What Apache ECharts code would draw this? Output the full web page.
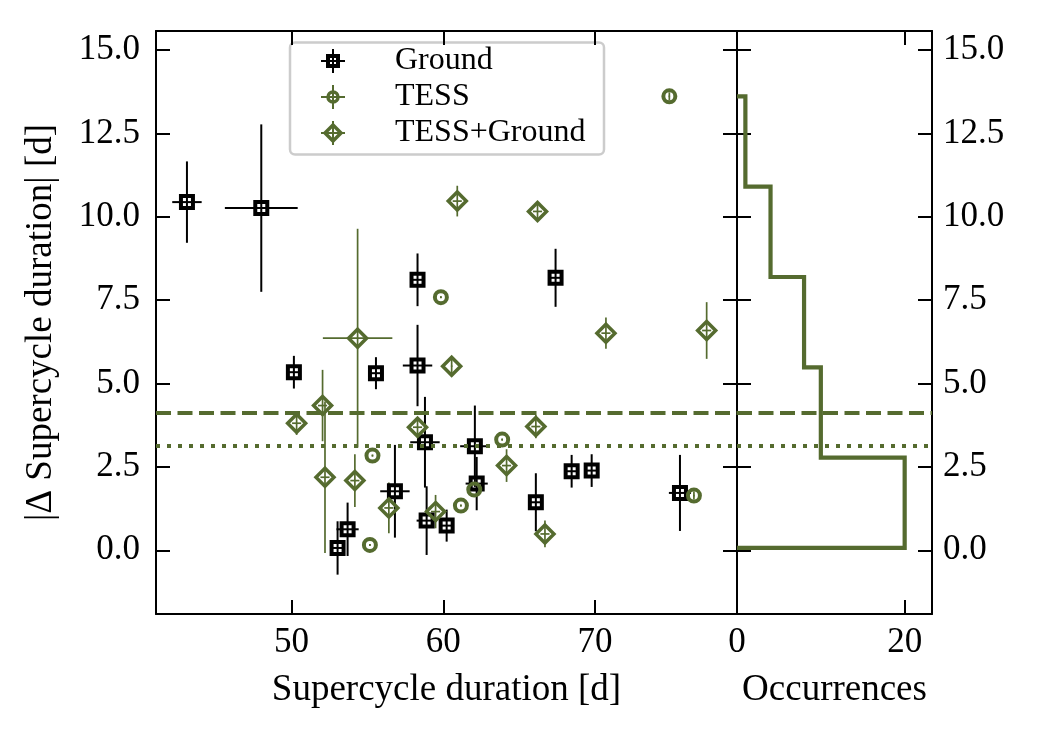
<!DOCTYPE html>
<html>
<head>
<meta charset="utf-8">
<script src="https://cdn.jsdelivr.net/npm/echarts@6/dist/echarts.min.js"></script>
<style>
html,body{margin:0;padding:0;background:#fff;}
#chart{width:1038px;height:738px;}
</style>
</head>
<body>
<div id="chart"></div>
<script>
// ---------------- data ----------------
const groundX    = [43.10, 48.00, 50.15, 55.56, 58.30, 58.30, 58.79, 53.03, 53.69, 56.81, 58.90, 60.22, 62.08, 62.20, 66.10, 68.46, 69.78, 75.60, 67.40];
const groundY    = [10.44, 10.26, 5.34, 5.31, 5.54, 8.11, 3.24, 0.07, 0.63, 1.77, 0.89, 0.74, 3.12, 2.00, 1.44, 2.37, 2.39, 1.72, 8.17];
const groundXErr = [0.97, 2.40, 0.35, 0.35, 0.97, 0.35, 0.97, 0.35, 0.73, 0.97, 0.66, 0.35, 0.97, 0.73, 0.35, 0.35, 0.35, 0.73, 0.35];
const groundYErr = [1.22, 2.51, 0.49, 0.48, 1.22, 0.79, 1.36, 0.80, 0.80, 1.39, 1.03, 0.48, 1.22, 0.80, 0.87, 0.49, 0.49, 1.14, 0.87];

const tessX    = [74.90, 59.84, 55.33, 55.16, 63.88, 62.04, 61.16, 76.52];
const tessY    = [13.61, 7.59, 2.84, 0.16, 3.32, 1.82, 1.34, 1.64];
const tessXErr = [0.05, 0.05, 0.05, 0.05, 0.05, 0.05, 0.05, 0.05];
const tessYErr = [0.12, 0.03, 0.03, 0.03, 0.03, 0.03, 0.03, 0.12];

const tgX    = [60.92, 66.21, 70.72, 77.36, 60.55, 54.35, 52.04, 50.33, 58.30, 52.20, 54.17, 56.41, 59.49, 64.17, 66.10, 66.70];
const tgY    = [10.47, 10.16, 6.51, 6.59, 5.52, 6.36, 4.34, 3.81, 3.69, 2.19, 2.09, 1.27, 1.16, 2.54, 3.71, 0.49];
const tgXErr = [0.30, 0.30, 0.30, 0.30, 0.05, 2.29, 0.30, 0.30, 0.30, 0.30, 0.30, 0.30, 0.30, 0.30, 0.30, 0.30];
const tgYErr = [0.46, 0.20, 0.47, 0.85, 0.30, 3.28, 1.07, 0.35, 0.25, 2.27, 0.79, 0.76, 0.50, 0.49, 0.35, 0.40];

const xTicks    = [50, 60, 70];
const yTicks    = [0, 2.5, 5, 7.5, 10, 12.5, 15];
const histTicks = [0, 20];
const nBins = 5;

const seriesNames = ['Ground', 'TESS', 'TESS+Ground'];

// ---------------- derived ----------------
const GREEN = '#556b2f';
const FONT = "'Liberation Serif', 'DejaVu Serif', serif";

const allY = groundY.concat(tessY, tgY);
const meanY = allY.reduce((a, b) => a + b, 0) / allY.length;
const sortedY = allY.slice().sort((a, b) => a - b);
const n = sortedY.length;
const medianY = n % 2 ? sortedY[(n - 1) / 2] : (sortedY[n / 2 - 1] + sortedY[n / 2]) / 2;

const lo = sortedY[0], hi = sortedY[n - 1];
const bw = (hi - lo) / nBins;
const edges = [];
for (let i = 0; i <= nBins; i++) edges.push(lo + i * bw);
const counts = new Array(nBins).fill(0);
allY.forEach(v => {
  let k = Math.floor((v - lo) / bw);
  if (k >= nBins) k = nBins - 1;
  counts[k]++;
});
const stepPts = [[0, edges[0]]];
for (let i = 0; i < nBins; i++) {
  stepPts.push([counts[i], edges[i]]);
  stepPts.push([counts[i], edges[i + 1]]);
}
stepPts.push([0, edges[nBins]]);

function pack(xs, ys, xe, ye) { return xs.map((x, i) => [x, ys[i], xe[i], ye[i]]); }

function errRender(color, lw) {
  return function (params, api) {
    const x = api.value(0), y = api.value(1), xe = api.value(2), ye = api.value(3);
    const a = api.coord([x - xe, y]), b = api.coord([x + xe, y]);
    const c = api.coord([x, y - ye]), d = api.coord([x, y + ye]);
    return {
      type: 'group',
      children: [
        { type: 'line', shape: { x1: a[0], y1: a[1], x2: b[0], y2: b[1] }, style: { stroke: color, lineWidth: lw } },
        { type: 'line', shape: { x1: c[0], y1: c[1], x2: d[0], y2: d[1] }, style: { stroke: color, lineWidth: lw } }
      ]
    };
  };
}

const TICK_FS = 35, NAME_FS = 37;
const axisLineStyle = { show: true, onZero: false, lineStyle: { color: '#000', width: 2 } };
const tickStyle = { show: true, inside: true, length: 14, lineStyle: { color: '#000', width: 2 } };
const labelBase = { color: '#000', fontSize: TICK_FS, fontFamily: FONT };

function xAx(grid, min, max, ticks, pos, showLabel, name) {
  return {
    type: 'value', gridIndex: grid, min: min, max: max, position: pos,
    axisLine: axisLineStyle,
    axisTick: Object.assign({ customValues: ticks }, tickStyle),
    axisLabel: Object.assign({ show: showLabel, customValues: ticks, margin: 11, formatter: v => String(v) }, labelBase),
    splitLine: { show: false },
    name: name || '', nameLocation: 'middle', nameGap: 58,
    nameTextStyle: { color: '#000', fontSize: NAME_FS, fontFamily: FONT }
  };
}
function yAx(grid, pos, showLabel, name) {
  return {
    type: 'value', gridIndex: grid, min: -1.91, max: 15.57, position: pos,
    axisLine: axisLineStyle,
    axisTick: Object.assign({ customValues: yTicks }, tickStyle),
    axisLabel: Object.assign({ show: showLabel, customValues: yTicks, margin: pos === 'left' ? 16 : 11, formatter: v => v.toFixed(1) }, labelBase),
    splitLine: { show: false },
    name: name || '', nameLocation: 'middle', nameGap: 96,
    nameTextStyle: { color: '#000', fontSize: NAME_FS, fontFamily: FONT }
  };
}

const refLines = {
  silent: true, symbol: ['none', 'none'], label: { show: false }, animation: false,
  data: [
    { yAxis: meanY, lineStyle: { color: GREEN, width: 4, type: [15, 6.5], cap: 'butt' } },
    { yAxis: medianY, lineStyle: { color: GREEN, width: 4, type: [4, 7], cap: 'butt' } }
  ]
};

// legend graphic
const LX = 333, LT = 395;
const rows = [61, 97, 133];
function crossLines(cx, cy, color) {
  return [
    { type: 'line', shape: { x1: cx - 12, y1: cy, x2: cx + 12, y2: cy }, style: { stroke: color, lineWidth: 2 } },
    { type: 'line', shape: { x1: cx, y1: cy - 12, x2: cx, y2: cy + 12 }, style: { stroke: color, lineWidth: 2 } }
  ];
}
const legendChildren = [
  { type: 'rect', shape: { x: 290, y: 42.5, width: 314, height: 112, r: 5 }, style: { fill: 'rgba(255,255,255,0.8)', stroke: '#cccccc', lineWidth: 2.5 } }
].concat(
  crossLines(LX, rows[0], '#000'),
  [{ type: 'rect', shape: { x: LX - 5, y: rows[0] - 5, width: 10, height: 10 }, style: { fill: 'none', stroke: '#000', lineWidth: 4 } }],
  crossLines(LX, rows[1], GREEN),
  [{ type: 'circle', shape: { cx: LX, cy: rows[1], r: 5 }, style: { fill: 'none', stroke: GREEN, lineWidth: 3.5 } }],
  crossLines(LX, rows[2], GREEN),
  [{ type: 'polygon', shape: { points: [[LX, rows[2] - 8], [LX + 8, rows[2]], [LX, rows[2] + 8], [LX - 8, rows[2]]] }, style: { fill: 'none', stroke: GREEN, lineWidth: 3.5 } }],
  seriesNames.map((t, i) => ({ type: 'text', x: LT, y: rows[i], style: { text: t, fill: '#000', font: '32px ' + FONT, verticalAlign: 'middle', align: 'left' } }))
);

const option = {
  animation: false,
  backgroundColor: '#fff',
  grid: [
    { left: 156, top: 31, width: 581, height: 583, show: false },
    { left: 737, top: 31, width: 195, height: 583, show: false }
  ],
  xAxis: [
    xAx(0, 41.06, 79.36, xTicks, 'bottom', true, 'Supercycle duration [d]'),
    xAx(0, 41.06, 79.36, xTicks, 'top', false),
    xAx(1, 0, 23.26, histTicks, 'bottom', true, 'Occurrences'),
    xAx(1, 0, 23.26, histTicks, 'top', false)
  ],
  yAxis: [
    yAx(0, 'left', true, '|\u0394 Supercycle duration| [d]'),
    yAx(0, 'right', false),
    yAx(1, 'left', false),
    yAx(1, 'right', true)
  ],
  series: [
    { type: 'custom', name: 'gErr', xAxisIndex: 0, yAxisIndex: 0, renderItem: errRender('#000', 2), data: pack(groundX, groundY, groundXErr, groundYErr), encode: { x: 0, y: 1 }, z: 2 },
    { type: 'custom', name: 'tErr', xAxisIndex: 0, yAxisIndex: 0, renderItem: errRender(GREEN, 1.7), data: pack(tessX, tessY, tessXErr, tessYErr), encode: { x: 0, y: 1 }, z: 2 },
    { type: 'custom', name: 'tgErr', xAxisIndex: 0, yAxisIndex: 0, renderItem: errRender(GREEN, 1.7), data: pack(tgX, tgY, tgXErr, tgYErr), encode: { x: 0, y: 1 }, z: 2 },
    { type: 'scatter', name: seriesNames[0], xAxisIndex: 0, yAxisIndex: 0, symbol: 'rect', symbolSize: 12,
      itemStyle: { color: 'rgba(0,0,0,0)', borderColor: '#000', borderWidth: 4, opacity: 1 },
      data: groundX.map((x, i) => [x, groundY[i]]), z: 3, markLine: refLines },
    { type: 'scatter', name: seriesNames[1], xAxisIndex: 0, yAxisIndex: 0, symbol: 'circle', symbolSize: 12,
      itemStyle: { color: 'rgba(0,0,0,0)', borderColor: GREEN, borderWidth: 4, opacity: 1 },
      data: tessX.map((x, i) => [x, tessY[i]]), z: 3 },
    { type: 'scatter', name: seriesNames[2], xAxisIndex: 0, yAxisIndex: 0, symbol: 'diamond', symbolSize: 18,
      itemStyle: { color: 'rgba(0,0,0,0)', borderColor: GREEN, borderWidth: 3.5, opacity: 1 },
      data: tgX.map((x, i) => [x, tgY[i]]), z: 3 },
    { type: 'line', name: 'hist', xAxisIndex: 2, yAxisIndex: 2, data: stepPts, symbol: 'none', showSymbol: false,
      lineStyle: { color: GREEN, width: 4.2, cap: 'butt', join: 'miter' }, z: 3, markLine: refLines }
  ],
  graphic: [{ type: 'group', z: 100, children: legendChildren }]
};

const chart = echarts.init(document.getElementById('chart'), null, { renderer: 'canvas' });
chart.setOption(option);
</script>
</body>
</html>
